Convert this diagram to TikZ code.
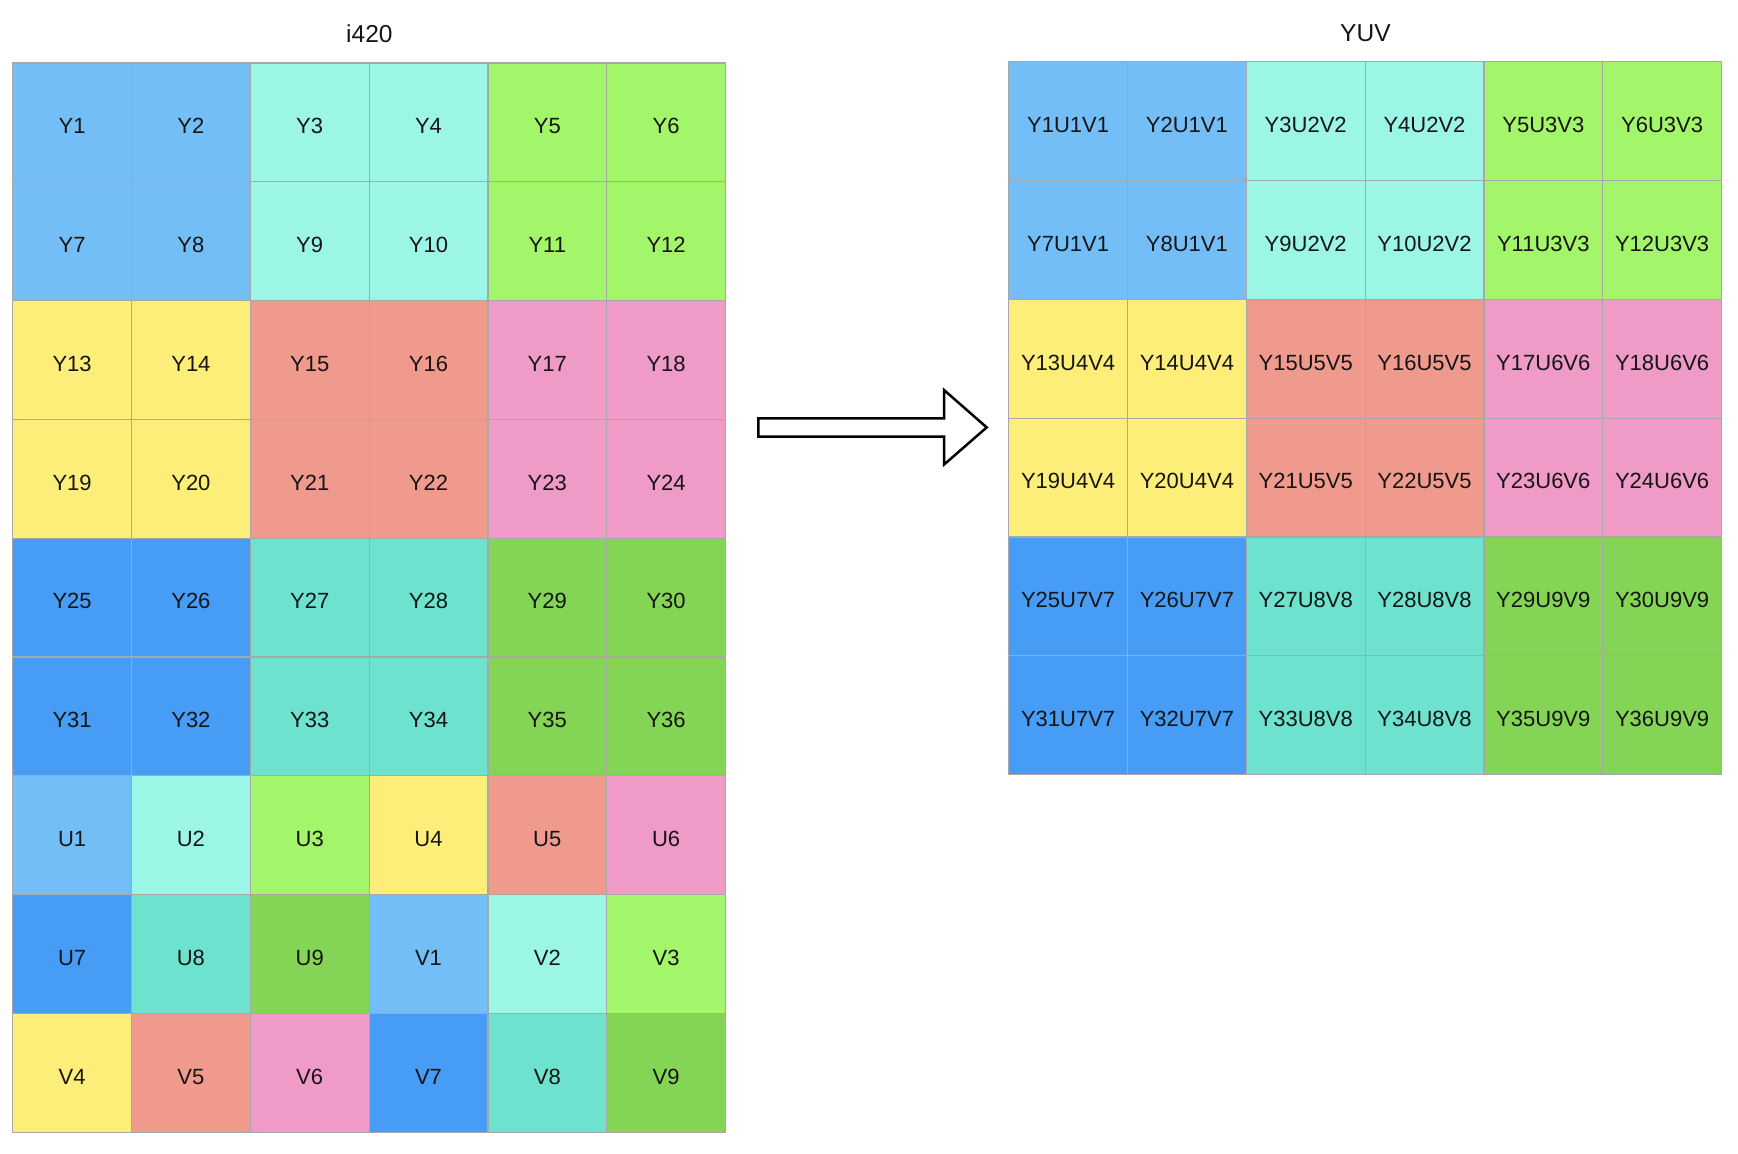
\documentclass[tikz,border=0pt]{standalone}
\usepackage{fontspec}
\setmainfont{Liberation Sans}
\definecolor{lb}{HTML}{74BEF8}
\definecolor{mt}{HTML}{9CF6E6}
\definecolor{lg}{HTML}{A3F56A}
\definecolor{ye}{HTML}{FDEE7A}
\definecolor{sa}{HTML}{F09A8D}
\definecolor{pk}{HTML}{F09AC7}
\definecolor{bl}{HTML}{479CF5}
\definecolor{tl}{HTML}{6CE2CF}
\definecolor{gr}{HTML}{84D555}
\definecolor{gridgray}{HTML}{A8A8A8}
\definecolor{txt}{HTML}{151515}
\begin{document}
\begin{tikzpicture}[x=1pt,y=-1pt,
  cell/.style={draw=gridgray, line width=1.2pt, minimum width=118.8pt, minimum height=118.8pt,
    inner sep=0pt, font=\fontsize{22}{26}\selectfont, text=txt, text height=22.6pt, text depth=0pt},
  title/.style={font=\fontsize{24.5}{28}\selectfont, text=txt},
  blockarrow/.style={draw=black, line width=2.5pt, fill=white, line join=miter}]
\useasboundingbox[fill=white] (0,0) rectangle (1738,1154);
\node[title] (t1) at (369.4,33.5) {i420};
\node[title] (t2) at (1365.4,33.5) {YUV};
% left grid
\foreach \lab/\col [count=\i from 0] in {
 Y1/lb,Y2/lb,Y3/mt,Y4/mt,Y5/lg,Y6/lg,
 Y7/lb,Y8/lb,Y9/mt,Y10/mt,Y11/lg,Y12/lg,
 Y13/ye,Y14/ye,Y15/sa,Y16/sa,Y17/pk,Y18/pk,
 Y19/ye,Y20/ye,Y21/sa,Y22/sa,Y23/pk,Y24/pk,
 Y25/bl,Y26/bl,Y27/tl,Y28/tl,Y29/gr,Y30/gr,
 Y31/bl,Y32/bl,Y33/tl,Y34/tl,Y35/gr,Y36/gr,
 U1/lb,U2/mt,U3/lg,U4/ye,U5/sa,U6/pk,
 U7/bl,U8/tl,U9/gr,V1/lb,V2/mt,V3/lg,
 V4/ye,V5/sa,V6/pk,V7/bl,V8/tl,V9/gr}{
  \pgfmathtruncatemacro{\r}{int(\i/6)}
  \pgfmathtruncatemacro{\c}{mod(\i,6)}
  \node[cell, fill=\col] (L\i) at ({12.7+118.8*(\c+0.5)},{63+118.8*(\r+0.5)}) {\lab};
}
% right grid
\foreach \lab/\col [count=\i from 0] in {
 Y1U1V1/lb,Y2U1V1/lb,Y3U2V2/mt,Y4U2V2/mt,Y5U3V3/lg,Y6U3V3/lg,
 Y7U1V1/lb,Y8U1V1/lb,Y9U2V2/mt,Y10U2V2/mt,Y11U3V3/lg,Y12U3V3/lg,
 Y13U4V4/ye,Y14U4V4/ye,Y15U5V5/sa,Y16U5V5/sa,Y17U6V6/pk,Y18U6V6/pk,
 Y19U4V4/ye,Y20U4V4/ye,Y21U5V5/sa,Y22U5V5/sa,Y23U6V6/pk,Y24U6V6/pk,
 Y25U7V7/bl,Y26U7V7/bl,Y27U8V8/tl,Y28U8V8/tl,Y29U9V9/gr,Y30U9V9/gr,
 Y31U7V7/bl,Y32U7V7/bl,Y33U8V8/tl,Y34U8V8/tl,Y35U9V9/gr,Y36U9V9/gr}{
  \pgfmathtruncatemacro{\r}{int(\i/6)}
  \pgfmathtruncatemacro{\c}{mod(\i,6)}
  \node[cell, fill=\col] (R\i) at ({1008.7+118.8*(\c+0.5)},{61.7+118.8*(\r+0.5)}) {\lab};
}
% block arrow
\draw[blockarrow] (758.3,418.3) -- (944,418.3) -- (944,390) -- (986.7,427.4)
  -- (944,464.6) -- (944,436.7) -- (758.3,436.7) -- cycle;
\end{tikzpicture}
\end{document}
